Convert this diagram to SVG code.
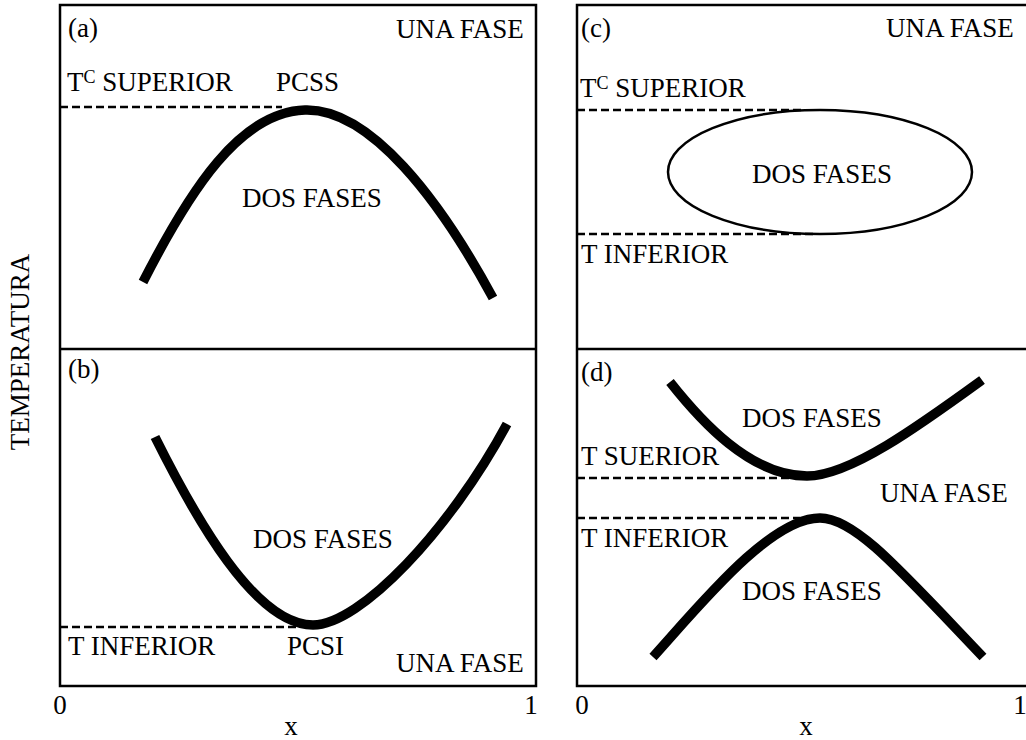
<svg xmlns="http://www.w3.org/2000/svg" width="1026" height="740" viewBox="0 0 1026 740" font-family="'Liberation Serif', 'DejaVu Serif', serif">
<style>
text{font-family:'Liberation Serif','DejaVu Serif',serif;font-size:27px;fill:#000}
.frame{fill:none;stroke:#000;stroke-width:2.5}
.dash{fill:none;stroke:#000;stroke-width:2.5;stroke-dasharray:8 4}
.curve{fill:none;stroke:#000;stroke-width:9.5}
.sup{font-size:18px}
</style>
<rect width="1026" height="740" fill="#fff"/>
<g id="frames">
<rect class="frame" x="60" y="5" width="476" height="681"/>
<line class="frame" x1="60" y1="349" x2="536" y2="349"/>
<path class="frame" d="M1030,5 H577 V686 H1030 M577,349 H1030"/>
</g>
<g id="axis-labels">
<text transform="translate(29 352) rotate(-90)" text-anchor="middle">TEMPERATURA</text>
<text x="60" y="714" text-anchor="middle">0</text>
<text x="531" y="714" text-anchor="middle">1</text>
<text x="291" y="735" text-anchor="middle">x</text>
<text x="582" y="714" text-anchor="middle">0</text>
<text x="1020" y="714" text-anchor="middle">1</text>
<text x="806" y="735" text-anchor="middle">x</text>
</g>
<g id="panel-a">
<text x="68" y="37">(a)</text>
<text x="396" y="38">UNA FASE</text>
<text x="67" y="91">T<tspan class="sup" dy="-8">C</tspan><tspan dy="8"> SUPERIOR</tspan></text>
<text x="276" y="91">PCSS</text>
<text x="242" y="207">DOS FASES</text>
<line class="dash" x1="60" y1="107" x2="282" y2="107"/>
<path class="curve" d="M143,282 C190,190 240,112 305,110 C370,108 440,200 493,298"/>
</g>
<g id="panel-b">
<text x="68" y="378">(b)</text>
<text x="253" y="548">DOS FASES</text>
<text x="68" y="655">T INFERIOR</text>
<text x="287" y="655">PCSI</text>
<text x="396" y="672">UNA FASE</text>
<line class="dash" x1="60" y1="627" x2="300" y2="627"/>
<path class="curve" d="M155,437 C195,517 255,625 313,625 C360,625 450,530 507,424"/>
</g>
<g id="panel-c">
<text x="581" y="37">(c)</text>
<text x="886" y="37">UNA FASE</text>
<text x="580" y="97">T<tspan class="sup" dy="-8">C</tspan><tspan dy="8"> SUPERIOR</tspan></text>
<line class="dash" x1="577" y1="110" x2="805" y2="110"/>
<ellipse cx="820" cy="172" rx="152" ry="62" fill="none" stroke="#000" stroke-width="2.5"/>
<text x="822" y="183" text-anchor="middle">DOS FASES</text>
<line class="dash" x1="577" y1="234" x2="815" y2="234"/>
<text x="581" y="263">T INFERIOR</text>
</g>
<g id="panel-d">
<text x="581" y="381">(d)</text>
<text x="742" y="427">DOS FASES</text>
<text x="581" y="465">T SUERIOR</text>
<line class="dash" x1="577" y1="478" x2="790" y2="478"/>
<text x="880" y="502">UNA FASE</text>
<line class="dash" x1="577" y1="518" x2="800" y2="518"/>
<text x="581" y="547">T INFERIOR</text>
<text x="742" y="600">DOS FASES</text>
<path class="curve" d="M670,382 C700,420 750,476 807,476 C850,476 920,425 982,380"/>
<path class="curve" d="M653,657 C700,605 770,518 820,518 C855,518 900,570 983,657"/>
</g>
</svg>
